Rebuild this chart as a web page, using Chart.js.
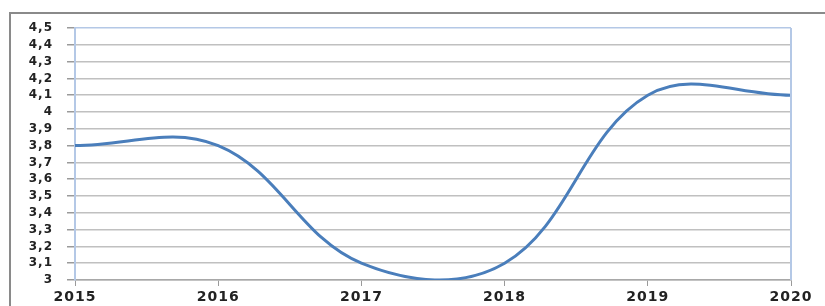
<!DOCTYPE html>
<html>
<head>
<meta charset="utf-8">
<script src="https://cdn.jsdelivr.net/npm/chart.js@4"></script>
<style>
  html, body { margin: 0; padding: 0; background: #fff; }
  #wrap { position: relative; width: 825px; height: 306px; overflow: hidden; }
  #frame { position: absolute; left: 9px; top: 12px; width: 1000px; height: 1000px;
           border-left: 2px solid #8a8a8a; border-top: 2px solid #8a8a8a; }
  #box { position: absolute; left: 0; top: 0; width: 825px; height: 306px; }
</style>
</head>
<body>
<div id="wrap">
  <div id="frame"></div>
  <div id="box"><canvas id="chart"></canvas></div>
</div>
<script>
const years = ['2015', '2016', '2017', '2018', '2019', '2020'];
const values = [3.8, 3.8, 3.1, 3.1, 4.1, 4.1];
const yMin = 3, yMax = 4.5, yStep = 0.1;

const frameBlue = '#b4c8e6';
const gridGray = '#c0c0c0';

// right border of the plot area, Excel style
const plotBorder = {
  id: 'plotBorder',
  beforeDraw(chart) {
    chart.ctx.letterSpacing = '1px';
  },
  afterDraw(chart) {
    const a = chart.chartArea, ctx = chart.ctx;
    ctx.save();
    ctx.strokeStyle = frameBlue;
    ctx.lineWidth = 2;
    ctx.beginPath();
    ctx.moveTo(a.right, a.top);
    ctx.lineTo(a.right, a.bottom);
    ctx.stroke();
    ctx.restore();
  }
};

function fmt(v) {
  return Number(v.toFixed(1)).toString().replace('.', ',');
}

new Chart(document.getElementById('chart'), {
  type: 'line',
  data: {
    labels: years,
    datasets: [{
      data: values,
      borderColor: '#4a7ebb',
      borderWidth: 3,
      tension: 0.38,
      capBezierPoints: false,
      pointRadius: 0,
      fill: false
    }]
  },
  options: {
    responsive: true,
    maintainAspectRatio: false,
    animation: false,
    layout: { padding: { top: 28, right: 34, left: 0, bottom: 0 } },
    plugins: { legend: { display: false }, tooltip: { enabled: false } },
    scales: {
      x: {
        afterFit: s => { s.height = 26; },
        grid: { drawOnChartArea: false, drawTicks: true, tickLength: 6, color: '#9a9a9a' },
        border: { color: '#a8a8a8', width: 1.5 },
        ticks: {
          color: '#222',
          padding: 3,
          maxRotation: 0,
          font: { family: 'DejaVu Sans', size: 14, weight: 'bold' }
        }
      },
      y: {
        min: yMin,
        max: yMax,
        afterFit: s => { s.width = 75; },
        grid: {
          color: ctx => (ctx.tick && ctx.tick.value >= yMax - 1e-9) ? frameBlue : gridGray,
          lineWidth: 1.5,
          tickLength: 8,
          tickColor: '#9a9a9a'
        },
        border: { color: frameBlue, width: 2 },
        ticks: {
          stepSize: yStep,
          autoSkip: false,
          color: '#222',
          padding: 14,
          callback: v => fmt(v),
          font: { family: 'DejaVu Sans', size: 12, weight: 'bold' }
        }
      }
    }
  },
  plugins: [plotBorder]
});
</script>
</body>
</html>
